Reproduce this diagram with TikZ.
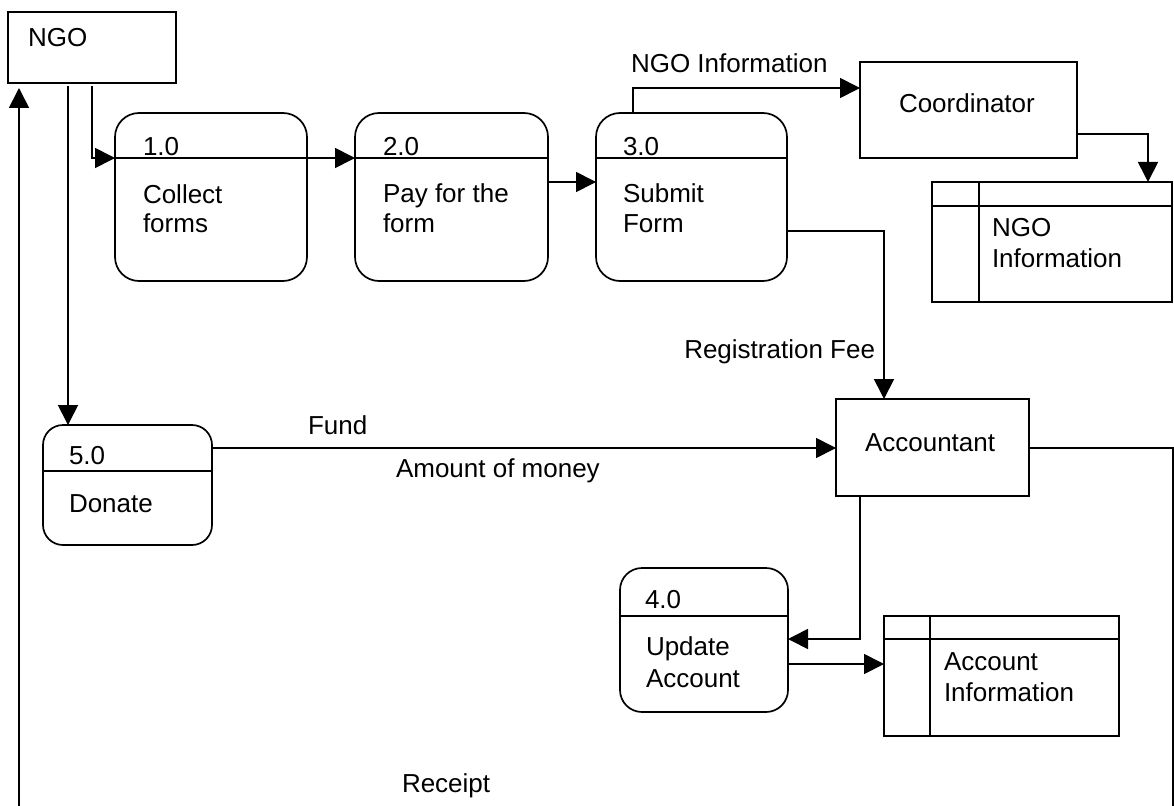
\documentclass[tikz,border=0pt]{standalone}
\usepackage{fontspec}
\setmainfont{Liberation Sans}
\usetikzlibrary{arrows.meta}
\begin{document}
\begin{tikzpicture}[x=1pt,y=-1pt,
  every node/.style={inner sep=0pt, outer sep=0pt},
  wire/.style={line width=1.7pt},
  entity/.style={draw, line width=1.7pt, rectangle},
  procbox/.style={draw, line width=1.7pt, rectangle, rounded corners=#1},
  txt/.style={anchor=base west, font=\fontsize{26}{30}\selectfont},
  flow/.style={line width=1.7pt, -{Triangle[length=20pt,width=20pt]}}
]
\useasboundingbox (0,0) rectangle (1174,805);
\clip (0,0) rectangle (1174,805);
\fill[white] (0,0) rectangle (1174,805);

% external entities
\node[entity, minimum width=168pt, minimum height=71pt] (ngo) at (92,47.5) {};
\node[txt] (ngoT) at (28,47) {NGO};
\node[entity, minimum width=217pt, minimum height=96pt] (coord) at (968.5,110) {};
\node[txt] (coordT) at (899,113) {Coordinator};
\node[entity, minimum width=193pt, minimum height=97pt] (acct) at (932.5,447.5) {};
\node[txt] (acctT) at (865,451) {Accountant};

% processes
\node[procbox=24pt, minimum width=192pt, minimum height=168pt] (p1) at (211,197) {};
\draw[wire] (p1.west |- 0,158) -- (p1.east |- 0,158);
\node[txt] (p1n) at (143,156) {1.0};
\node[txt] (p1a) at (143,203) {Collect};
\node[txt] (p1b) at (143,232) {forms};

\node[procbox=24pt, minimum width=193pt, minimum height=168pt] (p2) at (451.5,197) {};
\draw[wire] (p2.west |- 0,158) -- (p2.east |- 0,158);
\node[txt] (p2n) at (383,156) {2.0};
\node[txt] (p2a) at (383,202) {Pay for the};
\node[txt] (p2b) at (383,232) {form};

\node[procbox=24pt, minimum width=191pt, minimum height=168pt] (p3) at (691.5,197) {};
\draw[wire] (p3.west |- 0,158) -- (p3.east |- 0,158);
\node[txt] (p3n) at (623,156) {3.0};
\node[txt] (p3a) at (623,202) {Submit};
\node[txt] (p3b) at (623,232) {Form};

\node[procbox=22pt, minimum width=168pt, minimum height=144pt] (p4) at (704,640) {};
\draw[wire] (p4.west |- 0,616) -- (p4.east |- 0,616);
\node[txt] (p4n) at (645,608) {4.0};
\node[txt] (p4a) at (646,655) {Update};
\node[txt] (p4b) at (646,687) {Account};

\node[procbox=20pt, minimum width=169pt, minimum height=120pt] (p5) at (127.5,485) {};
\draw[wire] (p5.west |- 0,471) -- (p5.east |- 0,471);
\node[txt] (p5n) at (69,464) {5.0};
\node[txt] (p5a) at (69,512) {Donate};

% data stores
\node[entity, minimum width=240pt, minimum height=120pt] (ngostore) at (1052,242) {};
\draw[wire] (ngostore.west |- 0,206) -- (ngostore.east |- 0,206);
\draw[wire] (ngostore.north -| 979,0) -- (ngostore.south -| 979,0);
\node[txt] (ngostoreA) at (992,236) {NGO};
\node[txt] (ngostoreB) at (992,267) {Information};

\node[entity, minimum width=235pt, minimum height=120pt] (acctstore) at (1001.5,676) {};
\draw[wire] (acctstore.west |- 0,639) -- (acctstore.east |- 0,639);
\draw[wire] (acctstore.north -| 930,0) -- (acctstore.south -| 930,0);
\node[txt] (acctstoreA) at (944,670) {Account};
\node[txt] (acctstoreB) at (944,701) {Information};

% data flows
\draw[flow] ([yshift=-3pt]ngo.south) |- (p1.west |- 0,158);
\draw[flow] (p1.east |- 0,158) -- (p2.west |- 0,158);
\draw[flow] (p2.east |- 0,182) -- (p3.west |- 0,182);
\draw[flow] (p3.north -| 633,0) |- (coord.west |- 0,88);
\node[txt] (lInfo) at (631,73) {NGO Information};
\draw[flow] (coord.east |- 0,134) -| (ngostore.north -| 1148,0);
\draw[flow] (p3.east |- 0,231) -| (acct.north -| 884,0);
\node[txt, anchor=base east] (lFee) at (875,358) {Registration Fee};
\draw[flow] ([yshift=-3pt]ngo.south -| 68,0) -- (p5.north -| 68,0);
\draw[flow] (p5.east |- 0,448) -- (acct.west |- 0,448);
\node[txt] (lFund) at (308,434) {Fund};
\node[txt] (lMoney) at (396,477) {Amount of money};
\draw[flow] (acct.south -| 860,0) |- (p4.east |- 0,639);
\draw[flow] (p4.east |- 0,664) -- (acctstore.west |- 0,664);
\coordinate (rbend) at (1173,815);
\draw[flow] (acct.east |- 0,448) -| (rbend) -| ([yshift=-5pt]ngo.south -| 19,0);
\node[txt] (lReceipt) at (402,792) {Receipt};
\end{tikzpicture}
\end{document}
